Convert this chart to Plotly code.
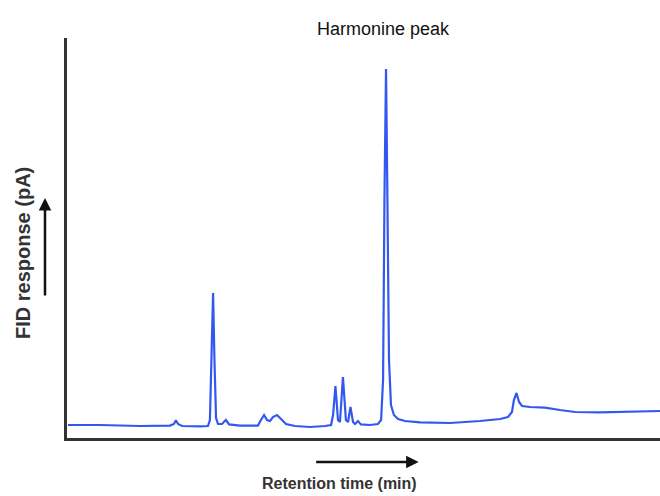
import plotly.graph_objects as go

# Gas chromatogram trace: retention time (min) vs FID response (pA)
retention_time = [
    0.05, 1.67, 3.69, 5.21, 5.41, 5.51, 5.62, 5.82, 6.73, 7.13,
    7.23, 7.31, 7.39, 7.46, 7.54, 7.64, 7.84, 8.04, 8.20, 8.75,
    9.66, 9.81, 9.97, 10.12, 10.27, 10.42, 10.62, 10.83, 11.08, 11.53,
    12.29, 13.05, 13.36, 13.46, 13.58, 13.71, 13.81, 13.96, 14.11, 14.22,
    14.34, 14.47, 14.57, 14.72, 14.87, 15.33, 15.73, 15.89, 15.99, 16.06,
    16.14, 16.21, 16.29, 16.39, 16.54, 16.75, 17.10, 17.86, 19.38, 20.89,
    21.91, 22.31, 22.51, 22.61, 22.74, 22.87, 23.02, 23.42, 24.18, 24.94,
    25.70, 26.96, 28.48, 30.00,
]
fid_response = [
    3.25, 3.25, 3.0, 3.1, 3.5, 4.4, 3.5, 3.0, 2.9, 3.0,
    4.5, 19.5, 36.25, 19.5, 5.0, 3.5, 3.5, 4.5, 3.4, 3.1,
    3.1, 4.5, 5.75, 4.5, 4.25, 5.25, 5.75, 4.75, 3.5, 3.0,
    2.75, 3.0, 3.25, 5.75, 13.0, 4.5, 4.0, 15.25, 4.5, 4.0,
    7.75, 4.0, 3.5, 4.25, 3.4, 3.25, 3.5, 4.5, 14.5, 59.5,
    92.25, 59.5, 19.5, 8.25, 5.75, 4.75, 4.25, 3.9, 3.75, 4.25,
    4.75, 5.25, 6.5, 9.5, 11.25, 9.0, 8.0, 7.75, 7.6, 7.0,
    6.5, 6.4, 6.6, 6.75,
]

peak_label = "Harmonine peak"
x_title = "Retention time (min)"
y_title = "FID response (pA)"

FONT = "Arial, Liberation Sans, sans-serif"

fig = go.Figure(
    go.Scatter(
        x=retention_time,
        y=fid_response,
        mode="lines",
        line=dict(color="#3358f2", width=2.2),
        hoverinfo="skip",
    )
)

fig.update_layout(
    width=660,
    height=496,
    margin=dict(l=67, r=0, t=38, b=58),
    paper_bgcolor="white",
    plot_bgcolor="white",
    showlegend=False,
    xaxis=dict(
        range=[0, 30],
        showline=True,
        linecolor="#333333",
        linewidth=3,
        showgrid=False,
        zeroline=False,
        showticklabels=False,
        ticks="",
    ),
    yaxis=dict(
        range=[0, 100],
        showline=True,
        linecolor="#333333",
        linewidth=3,
        showgrid=False,
        zeroline=False,
        showticklabels=False,
        ticks="",
    ),
    annotations=[
        dict(
            text=peak_label,
            xref="paper", yref="paper",
            x=0.533, y=1.0225,
            xanchor="center", yanchor="middle",
            showarrow=False,
            font=dict(family=FONT, size=18, color="#111111"),
        ),
        dict(
            text="<b>" + y_title + "</b>",
            xref="paper", yref="paper",
            x=-0.0742, y=0.4625,
            xanchor="center", yanchor="middle",
            textangle=-90,
            showarrow=False,
            font=dict(family=FONT, size=20, color="#333333"),
        ),
        dict(
            text="<b>" + x_title + "</b>",
            xref="paper", yref="paper",
            x=0.46, y=-0.1125,
            xanchor="center", yanchor="middle",
            showarrow=False,
            font=dict(family=FONT, size=16, color="#333333"),
        ),
        # upward arrow beside the response label
        dict(
            text="",
            xref="paper", yref="paper",
            x=-0.0371, y=0.6,
            ax=0, ay=99,
            showarrow=True,
            arrowhead=2, arrowsize=1, arrowwidth=2.5,
            arrowcolor="#111111",
        ),
        # rightward arrow above the time label
        dict(
            text="",
            xref="paper", yref="paper",
            x=0.593, y=-0.06,
            ax=-104, ay=0,
            showarrow=True,
            arrowhead=2, arrowsize=1, arrowwidth=2.5,
            arrowcolor="#111111",
        ),
    ],
)

fig.write_html("out.html")
